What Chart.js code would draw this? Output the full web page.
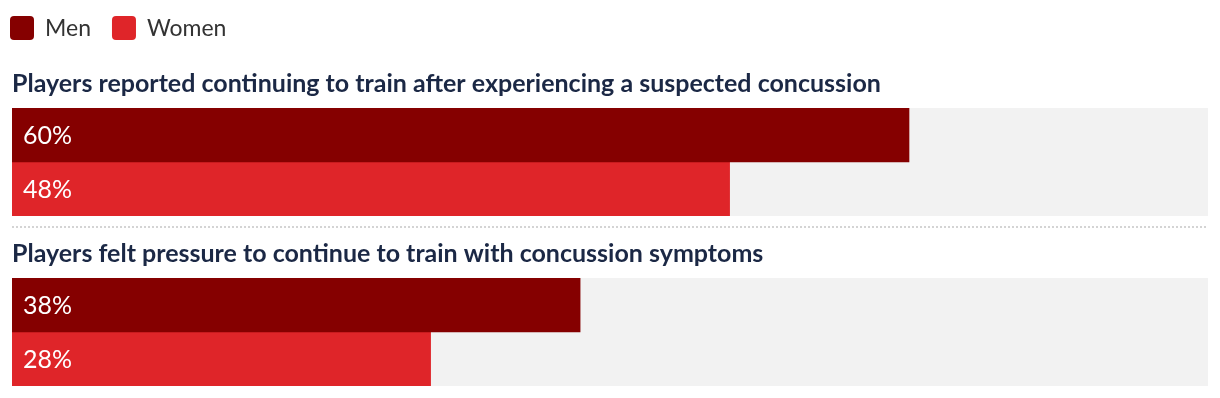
<!DOCTYPE html>
<html>
<head>
<meta charset="utf-8">
<title>Concussion survey</title>
<script src="https://cdn.jsdelivr.net/npm/chart.js@4.4.0/dist/chart.umd.min.js"></script>
<style>
  html, body { margin: 0; padding: 0; background: #fff; }
  .block { position: relative; width: 1220px; }
</style>
</head>
<body>
<div class="block" style="height:228px"><canvas id="chart-q1"></canvas></div>
<div class="block" style="height:170px"><canvas id="chart-q2"></canvas></div>
<script>
// data
const questions = [
  'Players reported continuing to train after experiencing a suspected concussion',
  'Players felt pressure to continue to train with concussion symptoms'
];
const seriesNames = ['Men', 'Women'];
const menValues = [60, 38];
const womenValues = [48, 28];
const scaleMax = 80;

const seriesColors = ['#850000', '#df2529'];
const FONT = 'Lato';

Chart.defaults.font.family = FONT;

// grey track behind the bars, 0 -> scaleMax
const trackPlugin = {
  id: 'track',
  beforeDatasetsDraw(chart) {
    const { ctx, chartArea, scales: { x } } = chart;
    const x0 = x.getPixelForValue(0);
    const x1 = x.getPixelForValue(scaleMax);
    ctx.save();
    ctx.fillStyle = '#f2f2f2';
    ctx.fillRect(x0, chartArea.top, x1 - x0, chartArea.bottom - chartArea.top);
    ctx.restore();
  }
};

// "60%" labels inside the bars
const valueLabelPlugin = {
  id: 'valueLabels',
  afterDatasetsDraw(chart) {
    const { ctx } = chart;
    ctx.save();
    ctx.fillStyle = '#fff';
    ctx.font = `25px ${FONT}`;
    ctx.textBaseline = 'middle';
    chart.data.datasets.forEach((ds, i) => {
      chart.getDatasetMeta(i).data.forEach((bar, j) => {
        ctx.fillText(ds.data[j] + '%', bar.base + 11, bar.y + 1);
      });
    });
    ctx.restore();
  }
};

// square legend at the very top
const legendPlugin = {
  id: 'squareLegend',
  afterDraw(chart) {
    const { ctx } = chart;
    let x = 10;
    ctx.save();
    ctx.font = `23px ${FONT}`;
    ctx.textBaseline = 'middle';
    chart.data.datasets.forEach(ds => {
      ctx.fillStyle = ds.backgroundColor;
      ctx.beginPath();
      ctx.roundRect(x, 16, 24, 24, 4);
      ctx.fill();
      ctx.fillStyle = '#333';
      ctx.fillText(ds.label, x + 35, 29);
      x += 35 + ctx.measureText(ds.label).width + 21;
    });
    ctx.restore();
  }
};

// dotted divider under the first group
const dividerPlugin = {
  id: 'divider',
  afterDraw(chart) {
    const { ctx, chartArea } = chart;
    ctx.save();
    ctx.strokeStyle = '#d4d4d4';
    ctx.lineWidth = 2;
    ctx.setLineDash([2, 2]);
    ctx.beginPath();
    ctx.moveTo(chartArea.left, 227);
    ctx.lineTo(chartArea.right, 227);
    ctx.stroke();
    ctx.restore();
  }
};

function makeChart(id, qi, first) {
  const extra = first ? [legendPlugin, dividerPlugin] : [];
  return new Chart(document.getElementById(id), {
    type: 'bar',
    data: {
      labels: [questions[qi]],
      datasets: [
        { label: seriesNames[0], data: [menValues[qi]], backgroundColor: seriesColors[0] },
        { label: seriesNames[1], data: [womenValues[qi]], backgroundColor: seriesColors[1] }
      ]
    },
    options: {
      indexAxis: 'y',
      responsive: true,
      maintainAspectRatio: false,
      animation: false,
      datasets: { bar: { barPercentage: 1, categoryPercentage: 1, borderWidth: 0 } },
      layout: { padding: { left: 12, right: 12, top: 0, bottom: 12 } },
      scales: {
        x: { display: false, min: 0, max: scaleMax },
        y: { display: false }
      },
      plugins: {
        legend: { display: false },
        tooltip: { enabled: false },
        title: {
          display: true,
          text: questions[qi],
          align: 'start',
          color: '#1b2845',
          font: { family: FONT, size: 25, weight: 'bold', lineHeight: 1.2 },
          padding: { top: first ? 69 : 11, bottom: 9 }
        }
      }
    },
    plugins: [trackPlugin, valueLabelPlugin, ...extra]
  });
}

makeChart('chart-q1', 0, true);
makeChart('chart-q2', 1, false);
</script>
</body>
</html>
